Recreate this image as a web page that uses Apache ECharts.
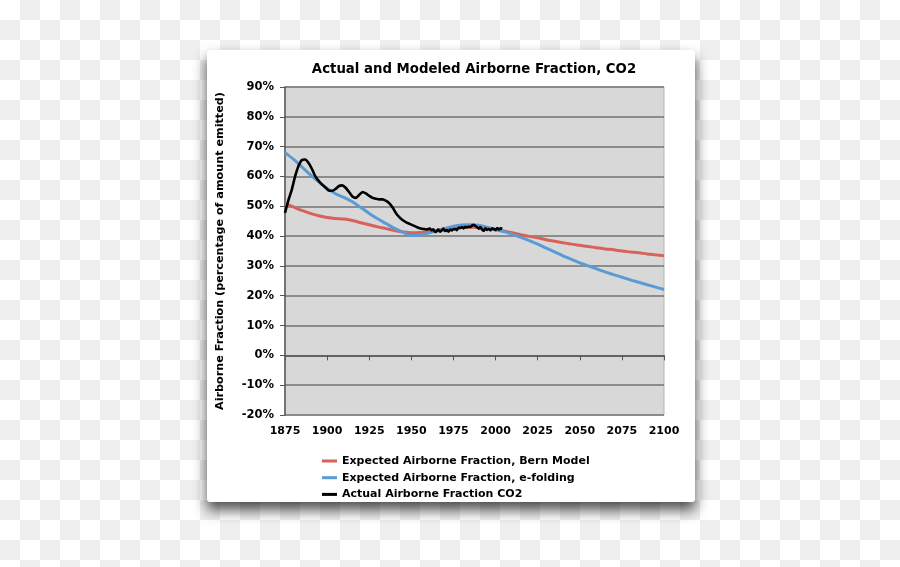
<!DOCTYPE html>
<html>
<head>
<meta charset="utf-8">
<script src="https://cdn.jsdelivr.net/npm/echarts@6/dist/echarts.min.js"></script>
<style>
html,body{margin:0;padding:0;}
body{width:900px;height:567px;background:repeating-conic-gradient(#efefef 0 25%, #ffffff 0 50%) 0 0/40px 40px;}
#c{width:900px;height:567px;}
</style>
</head>
<body>
<div id="c"></div>
<script>
const titleText = 'Actual and Modeled Airborne Fraction, CO2';
const yAxisTitle = 'Airborne Fraction (percentage of amount emitted)';
const seriesNames = ['Expected Airborne Fraction, Bern Model', 'Expected Airborne Fraction, e-folding', 'Actual Airborne Fraction CO2'];

const modelYears = [1875,1880,1885,1890,1895,1900,1905,1910,1915,1920,1925,1930,1935,1940,1945,1950,1955,1960,1965,1970,1975,1980,1985,1990,1995,2000,2005,2010,2015,2020,2025,2030,2035,2040,2045,2050,2055,2060,2065,2070,2075,2080,2085,2090,2095,2100];
const bernValues = [51,49.8,48.6,47.6,46.8,46.2,45.9,45.7,45.2,44.5,43.8,43.1,42.5,41.9,41.4,41.1,41.2,41.6,42.0,42.4,42.7,42.9,43.0,42.9,42.6,42.2,41.7,41.1,40.5,39.9,39.4,38.8,38.3,37.8,37.3,36.9,36.5,36.1,35.7,35.4,35.0,34.7,34.4,34.0,33.7,33.4];
const efoldValues = [68,65.8,63.2,60.6,58.2,56.0,54.2,53.0,51.5,49.6,47.6,45.8,44.2,42.6,41.3,40.2,40.4,41.0,41.8,42.6,43.3,43.7,43.8,43.6,43.0,42.2,41.5,40.6,39.6,38.5,37.3,36.0,34.7,33.4,32.2,31.0,30.0,29.0,28.0,27.1,26.2,25.3,24.5,23.7,22.9,22.1];

const actualYears = [1875,1877,1879,1881,1883,1885,1887,1889,1891,1893,1895,1897,1899,1901,1903,1905,1907,1909,1911,1913,1915,1917,1919,1921,1923,1925,1927,1929,1931,1933,1935,1937,1939,1941,1943,1945,1947,1949,1951,1953,1955,1957,1959,1961,1962,1963,1964,1965,1966,1967,1968,1969,1970,1971,1972,1973,1974,1975,1976,1977,1978,1979,1980,1981,1982,1983,1984,1985,1986,1987,1988,1989,1990,1991,1992,1993,1994,1995,1996,1997,1998,1999,2000,2001,2002,2003,2004];
const actualValues = [47.8,52,55.5,60,63.5,65.5,65.7,64.5,62.5,60,58.5,57.3,56.3,55.3,55.2,55.8,56.8,57,56.2,54.8,53.3,52.8,53.8,54.8,54.3,53.5,52.8,52.5,52.3,52.3,51.8,51,49.5,47.6,46.3,45.3,44.6,44.1,43.6,43.1,42.6,42.4,42.2,42.5,41.9,42.3,41.4,41.6,42.2,41.5,41.9,42.5,41.7,42.0,41.5,42.2,41.9,42.3,42.4,42.0,42.8,42.7,43.0,42.6,43.1,42.9,43.2,43.0,43.5,43.8,43.4,43.0,42.5,43.0,42.2,41.8,42.6,42.1,42.4,41.9,42.6,42.3,42.0,42.7,42.2,42.6,42.5];

const xMin = 1875, xMax = 2100, xStep = 25;
const yMin = -20, yMax = 90, yStep = 10;

const pair = (xs, ys) => xs.map((x, i) => [x, ys[i]]);
const FONT = 'DejaVu Sans';
const RED = '#d8625a', BLUE = '#5b9bd5', BLACK = '#000000';

const chart = echarts.init(document.getElementById('c'), null, {renderer: 'canvas'});
chart.setOption({
  animation: false,
  backgroundColor: 'transparent',
  graphic: [{
    type: 'rect', z: -10, silent: true,
    shape: {x: 207, y: 50, width: 488, height: 452, r: 3},
    style: {fill: '#ffffff', shadowBlur: 14, shadowOffsetY: 8, shadowColor: 'rgba(0,0,0,0.7)'}
  }],
  title: {
    text: titleText, left: 469, top: 58, textAlign: 'center',
    textStyle: {fontFamily: FONT, fontWeight: 'bold', fontSize: 13.3, color: '#000'}
  },
  grid: {
    left: 285, right: 236, top: 87, bottom: 152,
    show: true, backgroundColor: '#d8d8d8', borderColor: '#b5b5b5', borderWidth: 1
  },
  legend: {
    orient: 'vertical', left: 322, top: 454, itemGap: 2.7, padding: 0,
    itemWidth: 15, itemHeight: 3, icon: 'rect',
    textStyle: {fontFamily: FONT, fontWeight: 'bold', fontSize: 11, color: '#000', lineHeight: 14},
    data: seriesNames
  },
  xAxis: {
    type: 'value', min: xMin, max: xMax, interval: xStep,
    axisLine: {show: true, lineStyle: {color: '#555', width: 1.5}},
    axisTick: {show: true, inside: false, length: 5, lineStyle: {color: '#555'}},
    splitLine: {show: false},
    axisLabel: {fontFamily: FONT, fontWeight: 'bold', fontSize: 11, color: '#000', margin: 11, formatter: v => String(v)}
  },
  yAxis: {
    type: 'value', min: yMin, max: yMax, interval: yStep,
    name: yAxisTitle, nameLocation: 'middle', nameGap: 59, nameRotate: 90,
    nameTextStyle: {fontFamily: FONT, fontWeight: 'bold', fontSize: 11.2, color: '#000'},
    axisLine: {show: true, lineStyle: {color: '#555', width: 1.5}},
    axisTick: {show: true, inside: false, length: 5, lineStyle: {color: '#555'}},
    splitLine: {show: true, lineStyle: {color: '#737373', width: 1.5}},
    axisLabel: {fontFamily: FONT, fontWeight: 'bold', fontSize: 11.5, color: '#000', margin: 11, formatter: '{value}%'}
  },
  series: [
    {name: seriesNames[0], type: 'line', data: pair(modelYears, bernValues), showSymbol: false, smooth: 0.3, lineStyle: {color: RED, width: 3}, itemStyle: {color: RED}, z: 3},
    {name: seriesNames[1], type: 'line', data: pair(modelYears, efoldValues), showSymbol: false, smooth: 0.3, lineStyle: {color: BLUE, width: 3}, itemStyle: {color: BLUE}, z: 4},
    {name: seriesNames[2], type: 'line', data: pair(actualYears, actualValues), showSymbol: false, smooth: 0.2, lineStyle: {color: BLACK, width: 2.6}, itemStyle: {color: BLACK}, z: 5}
  ]
});
</script>
</body>
</html>
